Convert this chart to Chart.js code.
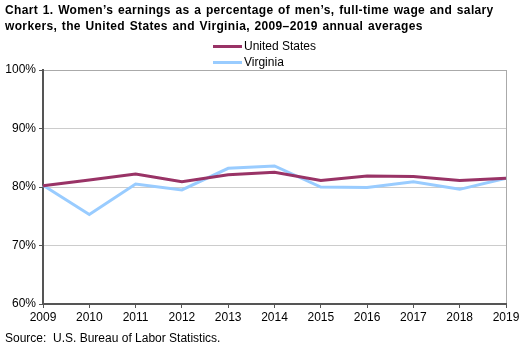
<!DOCTYPE html>
<html>
<head>
<meta charset="utf-8">
<script src="https://cdn.jsdelivr.net/npm/chart.js@4/dist/chart.umd.min.js"></script>
<style>
  body { margin: 0; background: #fff; font-family: Arial, "Liberation Sans", sans-serif; }
  #wrap { position: relative; width: 530px; height: 360px; }
  #chart { position: absolute; left: 0; top: 0; }
  #title { position: absolute; left: 5px; top: 2px; font-size: 12px; font-weight: bold; line-height: 16px; color: #000; letter-spacing: 0.35px; word-spacing: 1px; }
  #source { position: absolute; left: 5px; top: 331px; font-size: 12px; color: #000; }
  #legend { position: absolute; left: 213px; top: 38px; font-size: 12px; line-height: 16px; }
  .item { display: flex; align-items: center; height: 16px; }
  .swatch { width: 29px; height: 3px; margin-right: 2px; }
</style>
</head>
<body>
<div id="wrap">
  <canvas id="chart" width="530" height="360"></canvas>
  <div id="title">Chart 1. Women’s earnings as a percentage of men’s, full-time wage and salary<br>workers, the United States and Virginia, 2009–2019 annual averages</div>
  <div id="legend"></div>
  <div id="source">Source:&nbsp; U.S. Bureau of Labor Statistics.</div>
</div>
<script>
const years = ["2009", "2010", "2011", "2012", "2013", "2014", "2015", "2016", "2017", "2018", "2019"];
const unitedStates = [80.2, 81.2, 82.2, 80.9, 82.1, 82.5, 81.1, 81.9, 81.8, 81.1, 81.5];
const virginia = [80.3, 75.3, 80.5, 79.5, 83.2, 83.6, 80.0, 79.9, 80.9, 79.6, 81.5];

const seriesNames = ["United States", "Virginia"];
const seriesColors = ["#993366", "#99ccff"];

const legend = document.getElementById("legend");
seriesNames.forEach((name, i) => {
  const row = document.createElement("div");
  row.className = "item";
  row.innerHTML = '<span class="swatch" style="background:' + seriesColors[i] + '"></span>' + name;
  legend.appendChild(row);
});

const ctx = document.getElementById("chart").getContext("2d");
new Chart(ctx, {
  type: "line",
  data: {
    labels: years,
    datasets: [
      { label: seriesNames[0], data: unitedStates, borderColor: seriesColors[0], borderWidth: 3, pointRadius: 0, tension: 0 },
      { label: seriesNames[1], data: virginia, borderColor: seriesColors[1], borderWidth: 3, pointRadius: 0, tension: 0 },
    ],
  },
  options: {
    responsive: false,
    animation: false,
    layout: { padding: { left: 0, right: 24, top: 70, bottom: 0 } },
    plugins: { legend: { display: false }, title: { display: false }, tooltip: { enabled: false } },
    scales: {
      x: {
        offset: false,
        afterFit: (s) => { s.height = 56; },
        border: { display: true, color: "#555", width: 2 },
        grid: {
          drawOnChartArea: true,
          color: (c) => (c.index === years.length - 1 ? "#aaa" : "rgba(0,0,0,0)"),
          borderDash: [1, 1],
          tickColor: "#555",
          tickLength: 4,
          tickBorderDash: [],
        },
        ticks: { color: "#000", font: { family: "Arial, 'Liberation Sans'", size: 12 }, padding: 2, maxRotation: 0, autoSkip: false },
      },
      y: {
        min: 60,
        max: 100,
        afterFit: (s) => { s.width = 43; },
        border: { display: true, color: "#555", width: 2 },
        grid: {
          color: (c) => (c.tick && c.tick.value === 100 ? "#aaa" : "#ccc"),
          borderDash: (c) => (c.tick && c.tick.value === 100 ? [1, 1] : [4, 3]),
          tickColor: "#555",
          tickLength: 4,
          tickBorderDash: [],
        },
        ticks: {
          stepSize: 10,
          color: "#000",
          font: { family: "Arial, 'Liberation Sans'", size: 12 },
          padding: 3,
          callback: (v) => v + "%",
        },
      },
    },
  },
});
</script>
</body>
</html>
